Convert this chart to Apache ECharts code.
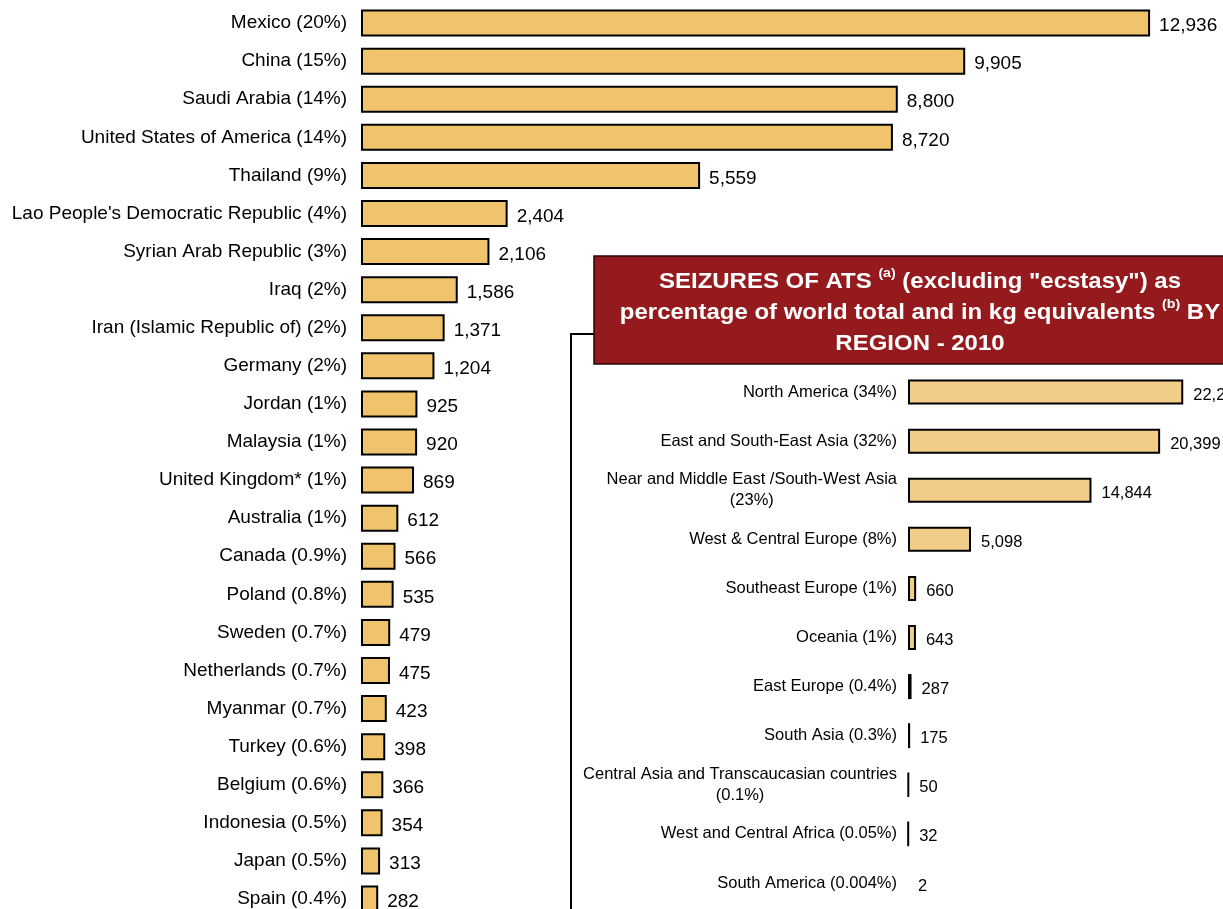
<!DOCTYPE html>
<html>
<head>
<meta charset="utf-8">
<script src="https://cdn.jsdelivr.net/npm/echarts@6/dist/echarts.min.js"></script>
<style>
html,body{margin:0;padding:0;background:#fff;}
#c{width:1223px;height:909px;}
</style>
</head>
<body>
<div id="c"></div>
<script>
// Countries (share of world total) and seizures in kg equivalents
const countryLabels = [
  "Mexico (20%)", "China (15%)", "Saudi Arabia (14%)", "United States of America (14%)",
  "Thailand (9%)", "Lao People's Democratic Republic (4%)", "Syrian Arab Republic (3%)",
  "Iraq (2%)", "Iran (Islamic Republic of) (2%)", "Germany (2%)", "Jordan (1%)",
  "Malaysia (1%)", "United Kingdom* (1%)", "Australia (1%)", "Canada (0.9%)",
  "Poland (0.8%)", "Sweden (0.7%)", "Netherlands (0.7%)", "Myanmar (0.7%)",
  "Turkey (0.6%)", "Belgium (0.6%)", "Indonesia (0.5%)", "Japan (0.5%)", "Spain (0.4%)"
];
const countryValues = [
  12936, 9905, 8800, 8720, 5559, 2404, 2106, 1586, 1371, 1204, 925,
  920, 869, 612, 566, 535, 479, 475, 423, 398, 366, 354, 313, 282
];

// Regions (share of world total) and seizures in kg equivalents
const regionLabels = [
  "North America (34%)", "East and South-East Asia (32%)",
  "Near and Middle East /South-West Asia\n(23%)", "West & Central Europe (8%)",
  "Southeast Europe (1%)", "Oceania (1%)", "East Europe (0.4%)", "South Asia (0.3%)",
  "Central Asia and Transcaucasian countries\n(0.1%)", "West and Central Africa (0.05%)",
  "South America (0.004%)"
];
const regionValues = [22270, 20399, 14844, 5098, 660, 643, 287, 175, 50, 32, 2];

const insetTitleLines = [
  ["SEIZURES OF ATS ", "(a)", " (excluding \"ecstasy\") as"],
  ["percentage of world total and in kg equivalents ", "(b)", " BY"],
  ["REGION - 2010"]
];

const FONT = "'Liberation Sans', Arial, sans-serif";
const fmt = v => Number(v).toLocaleString('en-US');

const titleText = insetTitleLines.map(l =>
  l.map((p, i) => (i % 2 === 1 ? '{s|' + p + '}' : '{t|' + p + '}')).join('')
).join('\n');

const chart = echarts.init(document.getElementById('c'), null, {renderer: 'canvas'});
chart.setOption({
  backgroundColor: '#fff',
  animation: false,
  textStyle: {fontFamily: FONT},
  grid: [
    {left: 361, top: 4, width: 854, height: 914, containLabel: false, outerBoundsMode: 'none'},
    {left: 908, top: 367.5, width: 309, height: 540, containLabel: false, outerBoundsMode: 'none'}
  ],
  xAxis: [
    {gridIndex: 0, type: 'value', min: 0, max: 14000, show: false},
    {gridIndex: 1, type: 'value', min: 0, max: 25000, show: false}
  ],
  yAxis: [
    {
      gridIndex: 0, type: 'category', data: countryLabels, inverse: true,
      axisLine: {show: false}, axisTick: {show: false}, splitLine: {show: false},
      axisLabel: {fontSize: 19, color: '#000', margin: 14, fontFamily: FONT, interval: 0}
    },
    {
      gridIndex: 1, type: 'category', data: regionLabels, inverse: true,
      axisLine: {show: false}, axisTick: {show: false}, splitLine: {show: false},
      axisLabel: {
        fontSize: 16.5, color: '#000', margin: 11, fontFamily: FONT, interval: 0,
        lineHeight: 21,
        formatter: v => v.split('\n').map(s => '{c|' + s + '}').join('\n'),
        rich: {c: {align: 'center', fontSize: 16.5, lineHeight: 21, color: '#000', fontFamily: FONT}}
      }
    }
  ],
  series: [
    {
      type: 'bar', xAxisIndex: 0, yAxisIndex: 0, data: countryValues,
      barWidth: 27,
      itemStyle: {color: '#f0c46c', borderColor: '#000', borderWidth: 2},
      label: {
        show: true, position: 'right', distance: 9, offset: [0, 3],
        fontSize: 19, color: '#000', fontFamily: FONT,
        formatter: p => fmt(p.value)
      }
    },
    {
      type: 'bar', xAxisIndex: 1, yAxisIndex: 1,
      data: regionValues.map(v => ({value: v, itemStyle: v < 10 ? {borderWidth: 0} : undefined})),
      barWidth: 25,
      itemStyle: {color: '#f2cd8a', borderColor: '#000', borderWidth: 2},
      label: {
        show: true, position: 'right', distance: 10, offset: [0, 3],
        fontSize: 16.5, color: '#000', fontFamily: FONT,
        formatter: p => fmt(p.value)
      }
    }
  ],
  graphic: [
    {
      type: 'polyline', z: 10,
      shape: {points: [[594, 334], [571, 334], [571, 930]]},
      style: {stroke: '#000', lineWidth: 2, fill: null}
    },
    {
      type: 'rect', z: 11,
      shape: {x: 594, y: 256, width: 680, height: 108},
      style: {fill: '#941a1d', stroke: '#2a0505', lineWidth: 1.5}
    },
    {
      type: 'text', z: 12, x: 920, y: 313, scaleX: 1.09,
      style: {
        text: titleText,
        align: 'center', verticalAlign: 'middle',
        fontFamily: FONT,
        rich: {
          t: {fontSize: 22, fontWeight: 'bold', fill: '#fff', color: '#fff', lineHeight: 31, fontFamily: FONT},
          s: {fontSize: 13, fontWeight: 'bold', fill: '#fff', color: '#fff', lineHeight: 31, verticalAlign: 'top', fontFamily: FONT}
        }
      }
    }
  ]
});
</script>
</body>
</html>
